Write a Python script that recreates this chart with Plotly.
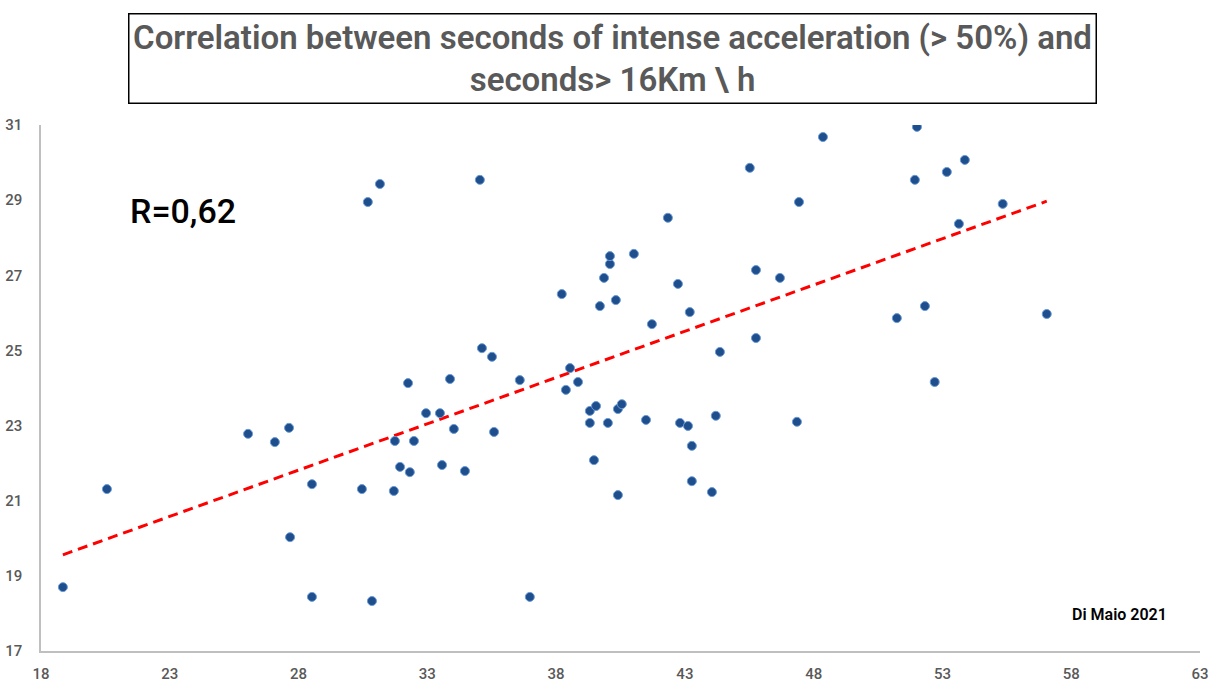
import plotly.graph_objects as go

# Seconds of intense acceleration (> 50%) per player
accel_seconds = [
    18.85, 20.56, 26.04, 27.08, 27.63, 27.67, 28.52, 28.52, 30.46, 30.69,
    30.85, 31.16, 31.70, 31.74, 31.94, 32.25, 32.32, 32.48, 32.95, 33.49,
    33.57, 33.88, 34.03, 34.46, 35.04, 35.12, 35.51, 35.59, 36.59, 36.98,
    38.22, 38.38, 38.54, 38.85, 39.31, 39.31, 39.47, 39.55, 39.70, 39.86,
    40.01, 40.09, 40.09, 40.32, 40.40, 40.40, 40.55, 41.02, 41.49, 41.72,
    42.34, 42.73, 42.81, 43.12, 43.19, 43.27, 43.27, 44.05, 44.20, 44.36,
    45.52, 45.76, 45.76, 46.69, 47.35, 47.43, 48.36, 51.23, 51.93, 52.01,
    52.32, 52.70, 53.17, 53.64, 53.87, 55.34, 57.05,
]

# Seconds above 16 km/h for the same players
speed_seconds = [
    18.70, 21.31, 22.78, 22.56, 22.94, 20.03, 21.44, 18.44, 21.31, 28.95,
    18.33, 29.43, 21.26, 22.59, 21.90, 24.13, 21.76, 22.59, 23.33, 23.33,
    21.95, 24.24, 22.91, 21.79, 29.54, 25.06, 24.83, 22.83, 24.21, 18.44,
    26.50, 23.95, 24.53, 24.16, 23.07, 23.39, 22.08, 23.52, 26.18, 26.93,
    23.07, 27.30, 27.51, 26.34, 23.44, 21.15, 23.57, 27.57, 23.15, 25.70,
    28.53, 26.77, 23.07, 22.99, 26.02, 22.46, 21.52, 21.23, 23.26, 24.96,
    29.86, 25.33, 27.14, 26.93, 23.10, 28.95, 30.68, 25.86, 29.54, 30.95,
    26.18, 24.16, 29.75, 28.37, 30.07, 28.90, 25.97,
]

# Linear trendline coefficients (y = slope * x + intercept)
trend_slope = 0.2464
trend_intercept = 14.915

x_ticks = [18, 23, 28, 33, 38, 43, 48, 53, 58, 63]
y_ticks = [17, 19, 21, 23, 25, 27, 29, 31]

title_text = ("Correlation between seconds of intense acceleration (> 50%) and"
              "<br>seconds> 16Km \\ h")
r_label = "R=0,62"
credit = "Di Maio 2021"

# Trendline spans the observed acceleration range
trend_x = [min(accel_seconds), max(accel_seconds)]
trend_y = [trend_slope * v + trend_intercept for v in trend_x]

FONT = "Roboto, 'Liberation Sans', sans-serif"
GREY = "#595959"

# Plot-area geometry in pixels, used to place the annotations
L, R, T, B = 41, 15, 125, 35
W, H = 1215, 686
PW, PH = W - L - R, H - T - B


def px_x(px):
    return (px - L) / PW


def px_y(py):
    return (H - B - py) / PH


fig = go.Figure()

fig.add_trace(go.Scatter(
    x=trend_x, y=trend_y, mode="lines",
    line=dict(color="#FF0000", width=3, dash="10px,6px"),
    hoverinfo="skip", showlegend=False,
))

fig.add_trace(go.Scatter(
    x=accel_seconds, y=speed_seconds, mode="markers",
    marker=dict(size=9, color="#1F4E8C", line=dict(color="#6A9AD6", width=1)),
    showlegend=False,
))

fig.update_layout(
    width=W, height=H,
    margin=dict(l=L, r=R, t=T, b=B, autoexpand=False),
    paper_bgcolor="white", plot_bgcolor="white",
    font=dict(family=FONT, color=GREY, size=14),
    xaxis=dict(
        range=[18, 63], tickvals=x_ticks, showgrid=False, zeroline=False,
        showline=True, linecolor="#BFBFBF", linewidth=1.5, automargin=False,
        tickfont=dict(family=FONT, size=15, color=GREY, weight=500),
        ticklabelstandoff=8,
    ),
    yaxis=dict(
        range=[17, 31], tickvals=y_ticks, showgrid=False, zeroline=False,
        showline=True, linecolor="#BFBFBF", linewidth=1.5, automargin=False,
        tickfont=dict(family=FONT, size=15, color=GREY, weight=500),
        ticklabelstandoff=14,
    ),
    annotations=[
        dict(
            text=title_text, xref="paper", yref="paper",
            x=px_x(612), y=px_y(59),
            xanchor="center", yanchor="middle", showarrow=False,
            font=dict(family=FONT, size=33, color=GREY, weight=600),
            bordercolor="black", borderwidth=1.5, borderpad=2,
            width=962, height=84, align="center",
        ),
        dict(
            text=r_label, xref="paper", yref="paper",
            x=px_x(128), y=px_y(211),
            xanchor="left", yanchor="middle", showarrow=False,
            font=dict(family=FONT, size=34, color="black", weight=500),
        ),
        dict(
            text=credit, xref="paper", yref="paper",
            x=px_x(1169), y=px_y(614),
            xanchor="right", yanchor="middle", showarrow=False,
            font=dict(family=FONT, size=16, color="black", weight=600),
        ),
    ],
)

fig.write_html("out.html")
